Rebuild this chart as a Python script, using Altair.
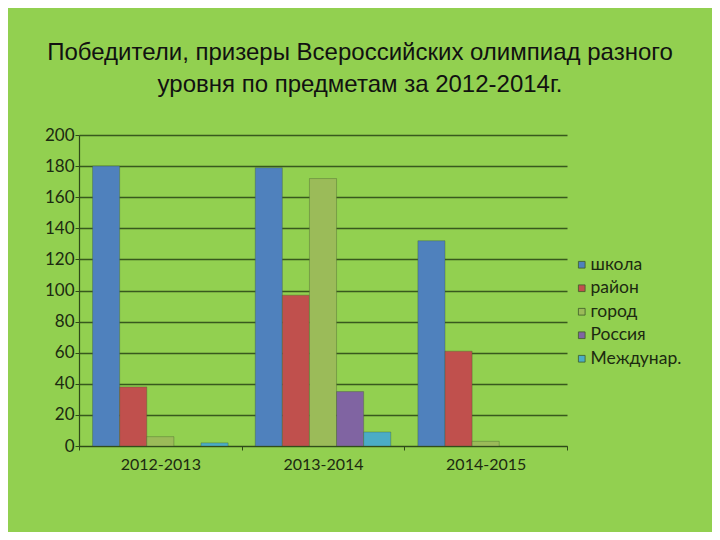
import altair as alt
import pandas as pd

years = ["2012-2013", "2013-2014", "2014-2015"]
series = ["школа", "район", "город", "Россия", "Междунар."]
colors = ["#4F81BD", "#C0504D", "#9BBB59", "#8064A2", "#4BACC6"]
values = {
    "школа": [180, 179, 132],
    "район": [38, 97, 61],
    "город": [6, 172, 3],
    "Россия": [0, 35, 0],
    "Междунар.": [2, 9, 0],
}
title_lines = ["Победители, призеры Всероссийских олимпиад разного",
               "уровня по предметам за 2012-2014г."]

rows = []
for s in series:
    for y, v in zip(years, values[s]):
        if v > 0:
            rows.append({"year": y, "series": s, "value": v})
df = pd.DataFrame(rows)

bg = "#92D050"
ink = "#1c2a10"
grid = "#2f4a18"

chart = alt.Chart(df).mark_bar(stroke="#3d5a2a", strokeWidth=0.6, strokeOpacity=0.6).encode(
    x=alt.X("year:N", sort=years, title=None,
            scale=alt.Scale(paddingInner=0, paddingOuter=0),
            axis=alt.Axis(labelAngle=0, labelFont="Lato", labelFontSize=16, labelColor=ink,
                          labelPadding=6, tickBand="extent", tickSize=4, tickColor=grid,
                          domainColor=grid, domainWidth=1.2, grid=False)),
    xOffset=alt.XOffset("series:N", sort=series,
                        scale=alt.Scale(domain=series, paddingOuter=0.5, paddingInner=0)),
    y=alt.Y("value:Q", title=None,
            scale=alt.Scale(domain=[0, 200], nice=False),
            axis=alt.Axis(values=list(range(0, 201, 20)), labelFont="Lato", labelFontSize=17,
                          labelColor=ink, labelPadding=1, tickSize=4, tickColor=grid,
                          domainColor=grid, domainWidth=1.2, gridColor=grid, gridWidth=1.3,
                          gridOpacity=0.9)),
    color=alt.Color("series:N", sort=series,
                    scale=alt.Scale(domain=series, range=colors),
                    legend=alt.Legend(title=None, orient="none", legendX=494, legendY=121,
                                      symbolType="square", symbolSize=45, symbolStrokeWidth=0.8,
                                      labelFont="Lato", labelFontSize=17.5, labelColor=ink,
                                      rowPadding=4.5, labelOffset=0)),
).properties(
    width=488,
    height=311,
    autosize=alt.AutoSizeParams(type="none"),
    padding={"left": 71, "top": 127, "right": 145, "bottom": 86},
    background=bg,
    title=alt.Title(title_lines, font="Liberation Sans", fontSize=24, fontWeight="normal",
                    color="#111111", anchor="middle", dx=37, offset=29, lineHeight=32),
).configure_view(stroke=None)

chart.save("out.html", embed_options={"renderer": "svg", "actions": False})
